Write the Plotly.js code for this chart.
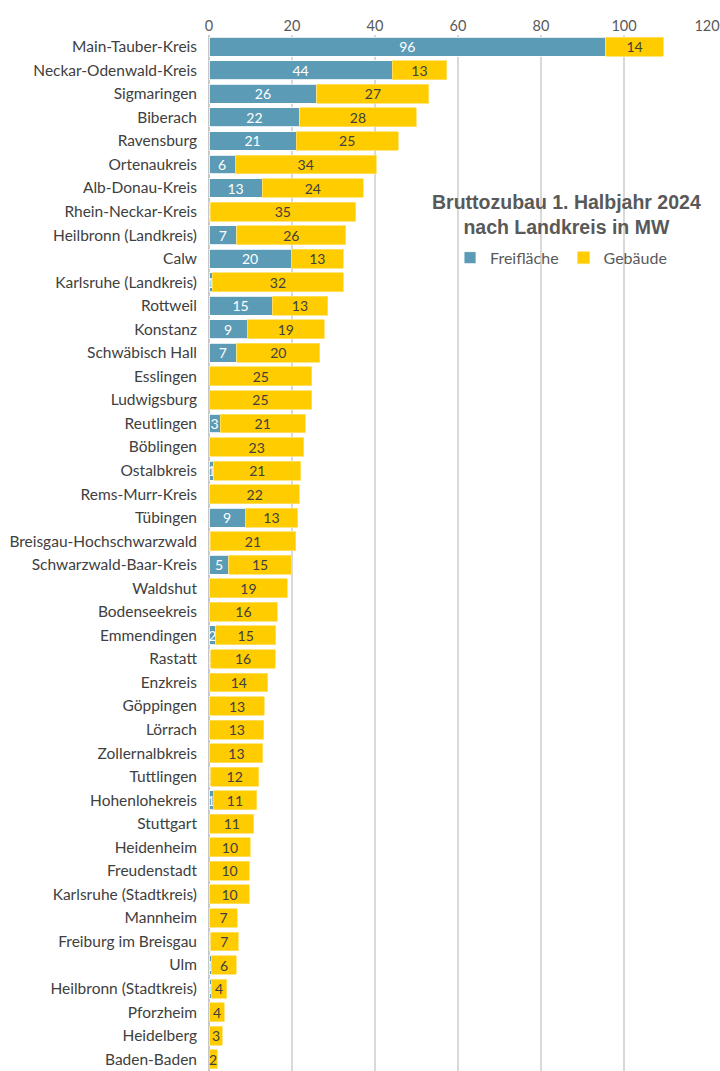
<!DOCTYPE html>
<html><head><meta charset="utf-8">
<script src="https://cdn.plot.ly/plotly-3.0.1.min.js"></script>
<style>html,body{margin:0;padding:0;background:#fff}#chart{width:720px;height:1071px}</style>
</head><body><div id="chart"></div>
<script>
const categories = ["Main-Tauber-Kreis","Neckar-Odenwald-Kreis","Sigmaringen","Biberach","Ravensburg","Ortenaukreis","Alb-Donau-Kreis","Rhein-Neckar-Kreis","Heilbronn (Landkreis)","Calw","Karlsruhe (Landkreis)","Rottweil","Konstanz","Schwäbisch Hall","Esslingen","Ludwigsburg","Reutlingen","Böblingen","Ostalbkreis","Rems-Murr-Kreis","Tübingen","Breisgau-Hochschwarzwald","Schwarzwald-Baar-Kreis","Waldshut","Bodenseekreis","Emmendingen","Rastatt","Enzkreis","Göppingen","Lörrach","Zollernalbkreis","Tuttlingen","Hohenlohekreis","Stuttgart","Heidenheim","Freudenstadt","Karlsruhe (Stadtkreis)","Mannheim","Freiburg im Breisgau","Ulm","Heilbronn (Stadtkreis)","Pforzheim","Heidelberg","Baden-Baden"];
const freiflaeche = [95.6,44.1,26.0,21.9,21.0,6.3,12.8,0.3,6.7,19.8,0.8,15.2,9.2,6.7,0.2,0.1,2.7,0.2,1.2,0.2,8.7,0.3,4.8,0.2,0.2,1.6,0.4,0.2,0.2,0.2,0.2,0.4,1.0,0.2,0.2,0.2,0.2,0.2,0.4,0.6,0.6,0.2,0.2,0];
const gebaeude = [13.9,13.2,27.0,28.0,24.6,34.0,24.4,35.0,26.3,12.6,31.6,13.4,18.6,20.0,24.6,24.6,20.5,22.6,20.9,21.6,12.7,20.6,15.0,18.6,16.2,14.5,15.6,14.0,13.1,13.0,12.8,11.6,10.5,10.6,9.7,9.5,9.5,6.6,6.6,6.0,3.7,3.5,3.0,2.0];
const seriesNames = ["Freifläche","Gebäude"];
const title = "<b>Bruttozubau 1. Halbjahr 2024<br>nach Landkreis in MW</b>";

const font = "Lato, 'Open Sans', sans-serif";
const traces = [
  {type:'bar', orientation:'h', name:seriesNames[0], y:categories, x:freiflaeche,
   marker:{color:'#5B9BB5', line:{color:'#ffffff', width:0.8}},
   texttemplate:'%{x:.0f}', textposition:'inside', insidetextanchor:'middle', textangle:0,
   insidetextfont:{color:'#ffffff', size:14, family:font}, hoverinfo:'skip', cliponaxis:true},
  {type:'bar', orientation:'h', name:seriesNames[1], y:categories, x:gebaeude,
   marker:{color:'#FFCC00', line:{color:'#FFE066', width:0.8}},
   texttemplate:'%{x:.0f}', textposition:'inside', insidetextanchor:'middle', textangle:0,
   insidetextfont:{color:'#404040', size:14, family:font}, hoverinfo:'skip'}
];
const layout = {
  width:720, height:1071,
  margin:{l:209, r:13, t:35, b:0},
  barmode:'stack', bargap:0.2,
  paper_bgcolor:'#ffffff', plot_bgcolor:'#ffffff',
  font:{family:font, color:'#404040', size:14},
  uniformtext:{mode:'show', minsize:14},
  xaxis:{side:'top', range:[0,120], dtick:20, tick0:0, showgrid:true, gridcolor:'#d9d9d9', gridwidth:1.5,
         zeroline:true, zerolinecolor:'#c8c8c8', zerolinewidth:1.5, ticks:'', showline:false,
         tickfont:{size:14.5, color:'#595959', family:font}, fixedrange:true},
  yaxis:{type:'category', autorange:'reversed', ticks:'', showline:false, ticklabelstandoff:11,
         tickfont:{size:15.5, color:'#404040', family:font}},
  showlegend:true,
  legend:{orientation:'h', x:0.484, y:0.785, xanchor:'left', yanchor:'middle', traceorder:'normal',
          font:{size:16, color:'#595959', family:font}, bgcolor:'rgba(0,0,0,0)', itemwidth:30},
  annotations:[{text:title, xref:'paper', yref:'paper', x:0.717, y:0.827, xanchor:'center', yanchor:'middle',
                showarrow:false, align:'center', font:{size:19.5, color:'#595959', family:"'Liberation Sans', Arial, sans-serif"}}]
};
Plotly.newPlot('chart', traces, layout, {displayModeBar:false, staticPlot:true});
</script></body></html>
